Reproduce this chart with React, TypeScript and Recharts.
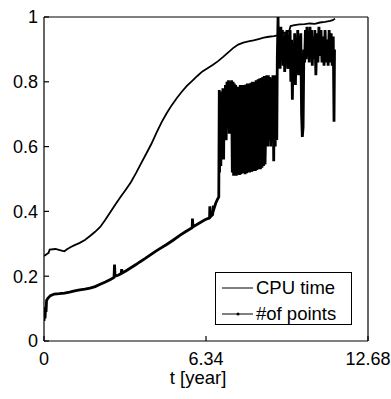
import { Legend, Line, LineChart, XAxis, YAxis } from 'recharts';

const FONT = '"Liberation Sans", Arial, Helvetica, sans-serif';

// [t in years, normalized value]
const cpuTime: [number, number][] = [
  [0, 0.262], [0.1, 0.268], [0.18, 0.272], [0.22, 0.282], [0.45, 0.284], [0.65, 0.28],
  [0.8, 0.277], [0.9, 0.283], [1.05, 0.29], [1.2, 0.296], [1.4, 0.303], [1.6, 0.312],
  [1.8, 0.324], [2.0, 0.337], [2.2, 0.352], [2.4, 0.374], [2.6, 0.398], [2.8, 0.422],
  [3.0, 0.445], [3.2, 0.467], [3.4, 0.49], [3.6, 0.518], [3.8, 0.548], [4.0, 0.578],
  [4.2, 0.608], [4.4, 0.642], [4.6, 0.675], [4.8, 0.703], [5.0, 0.728], [5.2, 0.75],
  [5.4, 0.77], [5.6, 0.788], [5.8, 0.803], [6.0, 0.818], [6.2, 0.832], [6.4, 0.842],
  [6.6, 0.852], [6.8, 0.863], [7.0, 0.876], [7.2, 0.89], [7.4, 0.904], [7.6, 0.915],
  [7.8, 0.921], [8.0, 0.925], [8.2, 0.928], [8.4, 0.932], [8.6, 0.936], [8.8, 0.939],
  [9.0, 0.941], [9.2, 0.944], [9.35, 0.95], [9.5, 0.953], [9.6, 0.958], [9.65, 0.972],
  [9.8, 0.975], [10.0, 0.977], [10.2, 0.978], [10.4, 0.98], [10.6, 0.979], [10.8, 0.983],
  [11.0, 0.985], [11.2, 0.988], [11.3, 0.99], [11.39, 0.995],
];

const pointsRise: [number, number][] = [
  [0, 0.062], [0.02, 0.095], [0.04, 0.07], [0.06, 0.105], [0.08, 0.09], [0.1, 0.125],
  [0.15, 0.132], [0.25, 0.14], [0.4, 0.145], [0.6, 0.146], [0.8, 0.148], [1.0, 0.151],
  [1.2, 0.155], [1.4, 0.158], [1.6, 0.16], [1.8, 0.163], [2.0, 0.168], [2.2, 0.175],
  [2.4, 0.182], [2.6, 0.19], [2.74, 0.196], [2.76, 0.236], [2.78, 0.2], [2.9, 0.203],
  [3.02, 0.208], [3.04, 0.222], [3.06, 0.21], [3.2, 0.216], [3.4, 0.226], [3.6, 0.236],
  [3.75, 0.244], [3.95, 0.254], [4.15, 0.265], [4.35, 0.276], [4.55, 0.286], [4.8, 0.298],
  [5.05, 0.311], [5.33, 0.327], [5.55, 0.338], [5.8, 0.35], [5.81, 0.378], [5.83, 0.352],
  [6.1, 0.365], [6.3, 0.374], [6.48, 0.38], [6.49, 0.416], [6.51, 0.383], [6.6, 0.39],
  [6.63, 0.418], [6.66, 0.41], [6.72, 0.425], [6.78, 0.436], [6.84, 0.445],
];

const pointsBurst: [number, number][] = [
  [6.86, 0.775], [6.87, 0.52], [6.89, 0.77], [6.92, 0.54], [6.95, 0.765],
  [6.98, 0.63], [7.0, 0.78], [7.03, 0.56], [7.05, 0.775], [7.08, 0.66],
  [7.1, 0.79], [7.13, 0.62], [7.16, 0.8], [7.19, 0.67], [7.22, 0.805],
  [7.25, 0.64], [7.28, 0.8], [7.31, 0.7], [7.34, 0.805], [7.37, 0.52],
  [7.4, 0.8], [7.42, 0.51], [7.45, 0.795], [7.48, 0.515], [7.5, 0.79],
  [7.53, 0.51], [7.56, 0.785], [7.59, 0.515], [7.62, 0.785], [7.65, 0.512],
  [7.68, 0.79], [7.71, 0.515], [7.74, 0.79], [7.77, 0.518], [7.8, 0.79],
  [7.87, 0.515], [7.9, 0.792], [7.93, 0.518], [7.96, 0.795], [7.99, 0.52],
  [8.02, 0.795], [8.05, 0.52], [8.1, 0.797], [8.13, 0.522], [8.16, 0.8],
  [8.19, 0.525], [8.22, 0.8], [8.27, 0.525], [8.3, 0.805], [8.33, 0.528],
  [8.38, 0.808], [8.41, 0.53], [8.44, 0.81], [8.47, 0.53], [8.5, 0.812],
  [8.53, 0.535], [8.56, 0.815], [8.59, 0.54], [8.62, 0.818], [8.65, 0.545],
  [8.72, 0.82], [8.75, 0.6], [8.78, 0.82], [8.81, 0.62], [8.84, 0.815],
  [8.87, 0.6], [8.9, 0.81], [8.93, 0.64], [8.96, 0.82], [8.99, 0.555],
  [9.02, 0.82], [9.05, 0.6], [9.08, 0.8], [9.11, 0.62],
];

const pointsTop: [number, number][] = [
  [9.13, 0.87], [9.16, 1.0], [9.18, 0.86], [9.21, 0.95], [9.24, 0.84], [9.27, 0.97],
  [9.3, 0.88], [9.33, 0.96], [9.36, 0.85], [9.39, 0.94], [9.42, 0.83], [9.45, 0.95],
  [9.48, 0.87], [9.51, 0.96], [9.54, 0.84], [9.57, 0.93], [9.6, 0.86], [9.63, 0.96],
  [9.66, 0.8], [9.69, 0.93], [9.72, 0.745], [9.75, 0.9], [9.78, 0.83], [9.81, 0.95],
  [9.84, 0.79], [9.87, 0.92], [9.9, 0.85], [9.93, 0.96], [9.96, 0.82], [9.99, 0.94],
  [10.02, 0.86], [10.05, 0.95], [10.08, 0.7], [10.11, 0.63], [10.14, 0.66], [10.17, 0.9],
  [10.2, 0.86], [10.23, 0.96], [10.26, 0.87], [10.29, 0.97], [10.32, 0.88], [10.35, 0.95],
  [10.38, 0.86], [10.41, 0.97], [10.44, 0.89], [10.47, 0.96], [10.5, 0.85], [10.53, 0.94],
  [10.56, 0.87], [10.6, 0.96], [10.64, 0.82], [10.68, 0.95], [10.72, 0.86], [10.76, 0.97],
  [10.8, 0.88], [10.84, 0.96], [10.88, 0.86], [10.92, 0.94], [10.96, 0.85], [11.0, 0.96],
  [11.04, 0.86], [11.08, 0.93], [11.12, 0.85], [11.16, 0.96], [11.2, 0.86], [11.24, 0.95],
  [11.28, 0.85], [11.32, 0.94], [11.35, 0.677], [11.37, 0.9],
];

const xTicks = [0, 6.34, 12.68];
const yTicks = [0, 0.2, 0.4, 0.6, 0.8, 1];
const legendOrder = ['CPU time', '#of points'];

const toRows = (pairs: [number, number][]) => pairs.map(([t, v]) => ({ t, v }));
const cpuRows = toRows(cpuTime);
const pointRows = toRows([...pointsRise, ...pointsBurst, ...pointsTop]);

const tickStyle = { fill: '#000', fontSize: 18, fontFamily: FONT };
const axisStroke = { stroke: '#000', strokeWidth: 1.2 };

function BoxLegend({ payload }: any) {
  const items = [...(payload ?? [])].sort(
    (a: any, b: any) => legendOrder.indexOf(a.value) - legendOrder.indexOf(b.value),
  );
  return (
    <div
      style={{
        position: 'relative',
        width: 137,
        height: 53,
        border: '1.3px solid #000',
        background: '#fff',
        boxSizing: 'border-box',
        fontFamily: FONT,
        fontSize: 18.5,
        color: '#000',
      }}
    >
      {items.map((entry: any, i: number) => (
        <div
          key={entry.value}
          style={{ position: 'absolute', left: 6, top: 4 + i * 26, height: 22, display: 'flex', alignItems: 'center' }}
        >
          <svg width={33} height={10}>
            <line x1={0} y1={5} x2={31} y2={5} stroke="#000" strokeWidth={1} />
            {entry.value === '#of points' && <circle cx={16} cy={5} r={1.5} fill="#000" />}
          </svg>
          <span style={{ marginLeft: 1, lineHeight: '22px', whiteSpace: 'nowrap' }}>{entry.value}</span>
        </div>
      ))}
    </div>
  );
}

export default function App() {
  return (
    <div style={{ position: 'absolute', left: 0, top: 0 }}>
      <LineChart width={391} height={399} margin={{ top: 16, right: 22, bottom: 0, left: 0 }}>
        <XAxis
          type="number"
          dataKey="t"
          domain={[0, 12.68]}
          ticks={xTicks}
          height={58}
          tick={tickStyle}
          tickSize={-5}
          tickMargin={16}
          axisLine={axisStroke}
          tickLine={axisStroke}
          allowDataOverflow
          label={({ viewBox }: any) => (
            <text
              x={viewBox.x + viewBox.width / 2 - 8}
              y={viewBox.y + 43}
              textAnchor="middle"
              fill="#000"
              fontSize={18.5}
              fontFamily={FONT}
            >
              t [year]
            </text>
          )}
        />
        <XAxis
          xAxisId="top"
          orientation="top"
          type="number"
          dataKey="t"
          domain={[0, 12.68]}
          ticks={xTicks}
          height={1}
          tick={false}
          tickSize={-5}
          axisLine={axisStroke}
          tickLine={axisStroke}
          allowDataOverflow
        />
        <YAxis
          type="number"
          domain={[0, 1]}
          ticks={yTicks}
          width={44}
          tick={tickStyle}
          tickSize={-5}
          tickMargin={11}
          axisLine={axisStroke}
          tickLine={axisStroke}
          allowDataOverflow
        />
        <YAxis
          yAxisId="right"
          orientation="right"
          type="number"
          domain={[0, 1]}
          ticks={yTicks}
          width={1}
          tick={false}
          tickSize={-5}
          axisLine={axisStroke}
          tickLine={axisStroke}
          allowDataOverflow
        />
        <Legend
          layout="vertical"
          align="center"
          verticalAlign="middle"
          wrapperStyle={{ left: 215, top: 272, width: 137, height: 53 }}
          content={BoxLegend}
        />
        <Line
          data={cpuRows}
          xAxisId="top"
          yAxisId="right"
          dataKey="v"
          name="CPU time"
          type="linear"
          stroke="#000"
          strokeWidth={1.8}
          dot={false}
          isAnimationActive={false}
        />
        <Line
          data={pointRows}
          dataKey="v"
          name="#of points"
          type="linear"
          stroke="#000"
          strokeWidth={2.8}
          dot={false}
          isAnimationActive={false}
        />
      </LineChart>
    </div>
  );
}
